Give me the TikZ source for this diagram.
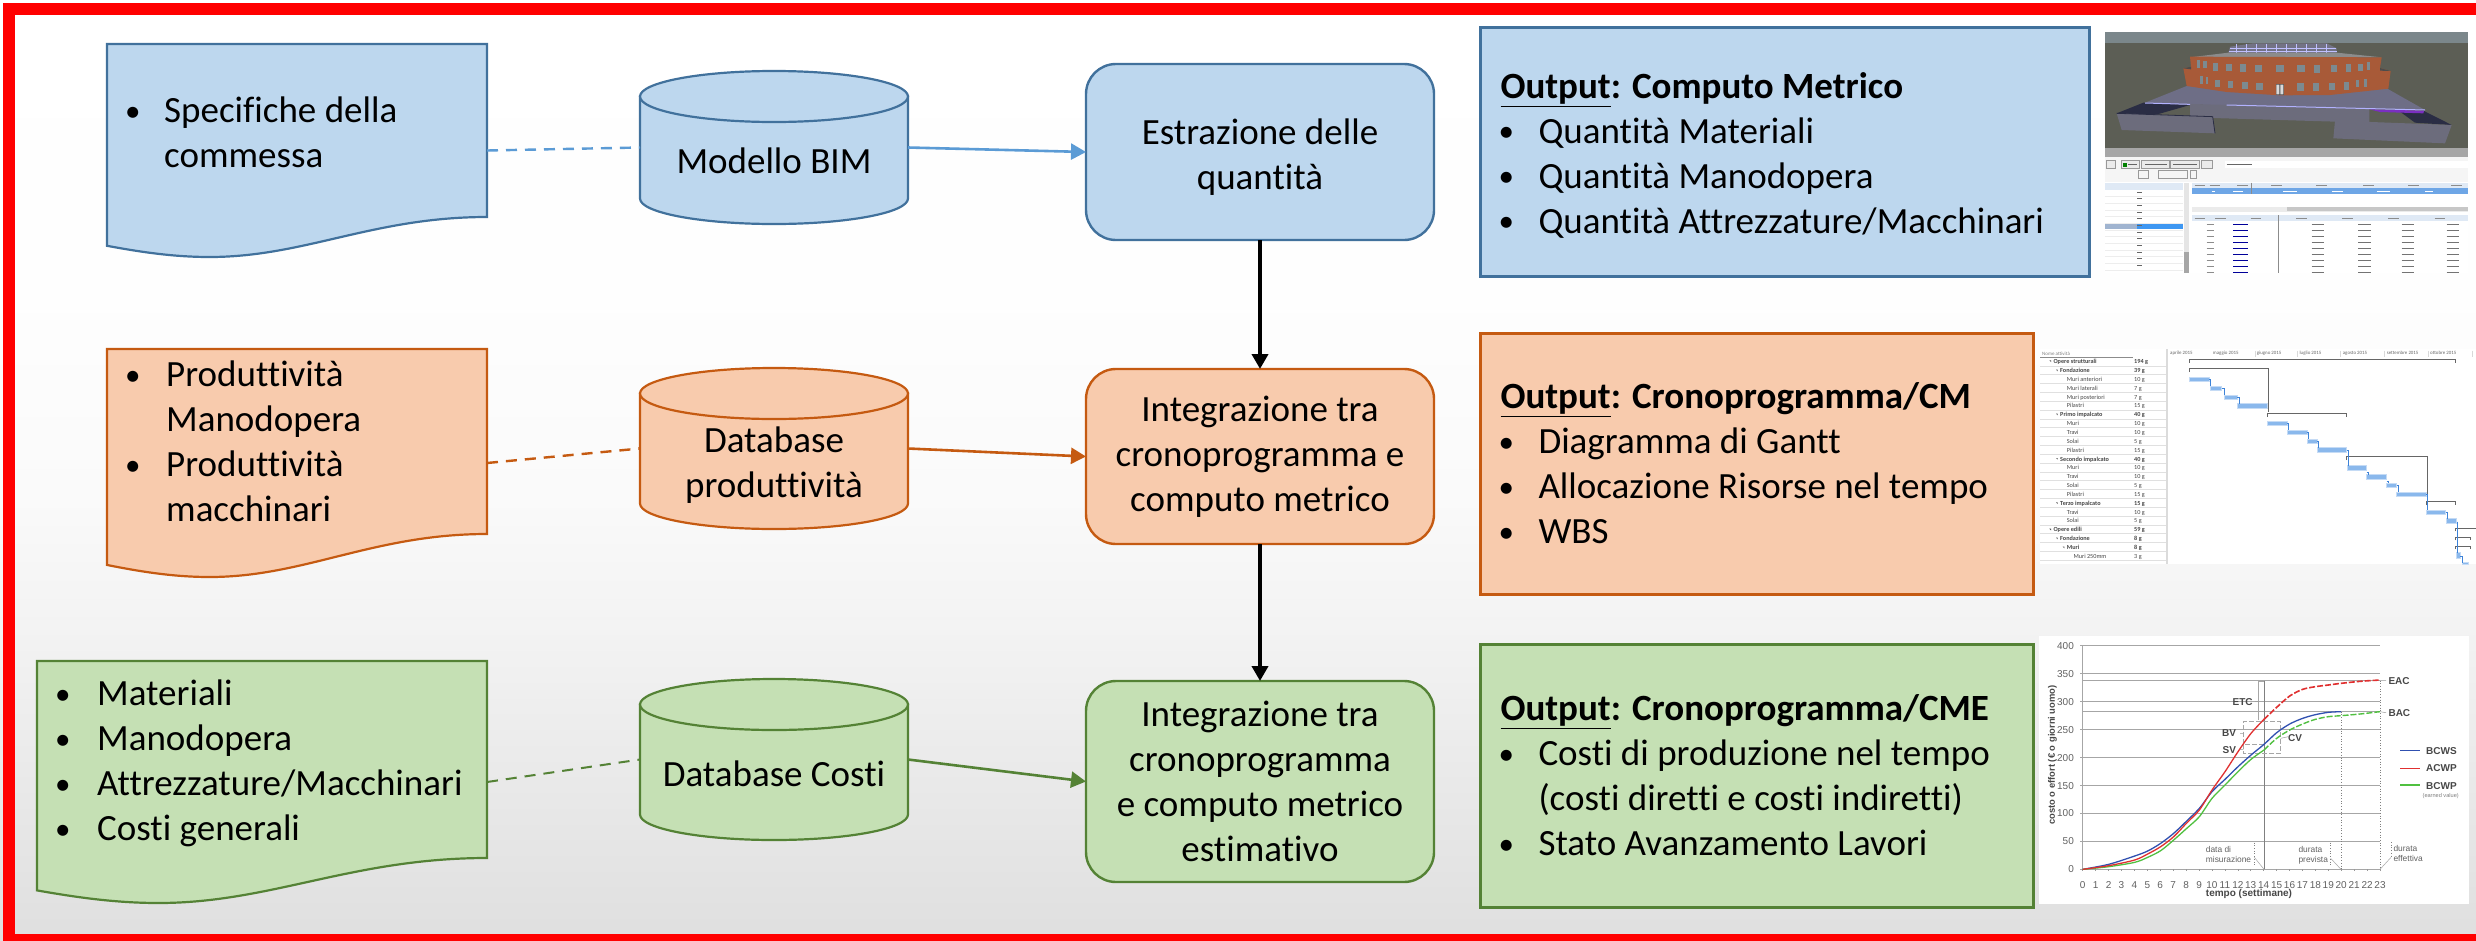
\documentclass[tikz,border=0pt]{standalone}
\usepackage{fontspec}
\setmainfont{Carlito}[Ligatures=NoCommon]
\newfontfamily\chartfont{Liberation Sans}
\usetikzlibrary{arrows.meta}
\definecolor{bfill}{HTML}{BDD7EE}\definecolor{bline}{HTML}{41719C}\definecolor{bconn}{HTML}{5B9BD5}
\definecolor{ofill}{HTML}{F8CBAD}\definecolor{oline}{HTML}{C55A11}
\definecolor{gfill}{HTML}{C5E0B4}\definecolor{gline}{HTML}{548235}
\definecolor{ganttblue}{HTML}{8AB8EC}\definecolor{ganttlink}{HTML}{3C82D8}
\definecolor{sky}{HTML}{7B878B}\definecolor{ground}{HTML}{5C5E55}\definecolor{brick}{HTML}{A85A38}
\definecolor{slab}{HTML}{6E6E86}\definecolor{wallc}{HTML}{6C6C7C}\definecolor{darkc}{HTML}{2A2D44}
\definecolor{purp}{HTML}{7A2FC0}\definecolor{wind}{HTML}{7C8A90}\definecolor{thead}{HTML}{DFE9F5}
\definecolor{selrow}{HTML}{6EA6E6}\definecolor{selcell}{HTML}{3E97F2}\definecolor{selgray}{HTML}{A0B4D0}
\definecolor{cblue}{HTML}{3050B0}\definecolor{cred}{HTML}{E03030}\definecolor{cgreen}{HTML}{50C040}
\pgfdeclareverticalshading{bgshade}{100bp}{rgb(0bp)=(0.875,0.875,0.875); rgb(25bp)=(0.875,0.875,0.875); rgb(41bp)=(0.95,0.95,0.95); rgb(48.4bp)=(0.98,0.98,0.98); rgb(59bp)=(0.995,0.995,0.995); rgb(75bp)=(1,1,1); rgb(100bp)=(1,1,1)}
\tikzset{
  shapeblue/.style={draw=bline,fill=bfill,line width=2.2pt},
  shapeorange/.style={draw=oline,fill=ofill,line width=2.2pt},
  shapegreen/.style={draw=gline,fill=gfill,line width=2.2pt},
  ghost/.style={inner sep=0pt,outer sep=0pt},
  bigtext/.style={font=\fontsize{37}{45}\selectfont,text=black},
  listtext/.style={bigtext,align=flush left,inner sep=0pt,anchor=north west},
  cyltext/.style={bigtext,align=flush center,inner sep=0pt,anchor=base},
  stepbox/.style={bigtext,align=flush center,rounded corners=30pt,line width=2.4pt,inner sep=0pt,outer sep=0pt,minimum width=348pt},
  outbox/.style={bigtext,align=flush left,line width=3pt,inner xsep=0pt,inner ysep=0pt,outer sep=0pt},
  solidconn/.style={line width=2.6pt,-{Triangle[length=15pt,width=16pt]}},
  dashconn/.style={line width=2.4pt,dash pattern=on 11pt off 8pt},
  flowarrow/.style={line width=4pt,black,-{Triangle[length=15pt,width=16pt]}},
  ganttlabel/.style={font=\fontsize{6.2}{7}\selectfont,text=black!72,inner sep=0pt,anchor=base west},
  gbar/.style={fill=ganttblue,draw=ganttblue!50,line width=.6pt},
  gsum/.style={draw=black!60,line width=.9pt},
  glink/.style={draw=ganttlink,line width=.7pt},
  ticklab/.style={font=\chartfont\fontsize{10}{11}\selectfont,text=black!62,inner sep=0pt},
  clabel/.style={font=\chartfont\bfseries\fontsize{10}{11}\selectfont,text=black!72,inner sep=0pt},
  smalllab/.style={font=\chartfont\fontsize{8.4}{10.2}\selectfont,text=black!62,inner sep=0pt,align=flush left,anchor=north west},
  gridline/.style={draw=black!35,line width=.8pt},
  dotline/.style={draw=black!50,line width=.7pt,dotted},
}
\newcommand{\bdot}{{\fontsize{31}{45}\selectfont\raisebox{1.8pt}{•}}}
\newcommand{\blt}{\makebox[38pt][l]{\hspace{-2pt}\bdot}}
\newcommand{\bli}[1]{\makebox[#1][l]{\hspace{-4pt}\bdot}}
\newcommand{\docshape}[7]{% name,x1,x2,top,yr,ytrough,style
  \pgfmathsetmacro\dw{#3-#2}
  \pgfmathsetmacro\dl{#6-0.28*(#6-#5)}
  \path[#7] (#2,#4) -- (#3,#4) -- (#3,#5)
    .. controls ({#3-0.30*\dw},#5) and ({#2+0.52*\dw},#6) .. ({#2+0.27*\dw},#6)
    .. controls ({#2+0.17*\dw},#6) and ({#2+0.08*\dw},{\dl+0.5*(#6-\dl)}) .. (#2,\dl) -- cycle;
  \pgfmathsetmacro\dcx{(#2+#3)/2}\pgfmathsetmacro\dcy{(#4+#6)/2}\pgfmathsetmacro\dh{#6-#4}
  \node[ghost,minimum width=\dw pt,minimum height=\dh pt] (#1) at (\dcx,\dcy) {};
}
\newcommand{\cylshape}[6]{% name,x1,x2,top,bottom,style
  \pgfmathsetmacro\ccx{(#2+#3)/2}\pgfmathsetmacro\crx{(#3-#2)/2}
  \pgfmathsetmacro\ccy{#4+25.5}\pgfmathsetmacro\cby{#5-25.5}
  \path[#6] (#2,\ccy) -- (#2,\cby) arc[start angle=180,end angle=360,x radius=\crx pt,y radius=25.5pt] -- (#3,\ccy) -- cycle;
  \path[#6] (\ccx,\ccy) ellipse[x radius=\crx pt,y radius=25.5pt];
  \pgfmathsetmacro\cmy{(#4+#5)/2}\pgfmathsetmacro\cw{#3-#2}\pgfmathsetmacro\ch{#5-#4}
  \node[ghost,minimum width=\cw pt,minimum height=\ch pt] (#1) at (\ccx,\cmy) {};
}
\begin{document}
\begin{tikzpicture}[x=1pt,y=-1pt]
\useasboundingbox (0,0) rectangle (2476,940);
\clip (0,0) rectangle (2476,940);
\fill[white] (0,0) rectangle (2476,940);
\shade[shading=bgshade] (0,0) rectangle (2476,940);
\draw[red,line width=12pt] (9,9) rectangle (2520,940);

% documents
\docshape{doc1}{107}{487}{44}{217}{257}{shapeblue}
\docshape{doc2}{107}{487}{349}{534}{577}{shapeorange}
\docshape{doc3}{37}{487}{661}{858}{903}{shapegreen}
\node[listtext] (tdoc1) at (129,97) {\bli{35pt}Specifiche della\\\hspace*{35pt}commessa};
\node[listtext] (tdoc2) at (129,361) {\bli{37pt}Produttività\\\hspace*{37pt}Manodopera\\\bli{37pt}Produttività\\\hspace*{37pt}macchinari};
\node[listtext] (tdoc3) at (59,680) {\bli{38pt}Materiali\\\bli{38pt}Manodopera\\\bli{38pt}Attrezzature/Macchinari\\\bli{38pt}Costi generali};

% cylinders
\cylshape{cyl1}{640}{908}{71}{224}{shapeblue}
\cylshape{cyl2}{640}{908}{368}{529}{shapeorange}
\cylshape{cyl3}{640}{908}{679}{840}{shapegreen}
\node[cyltext] (tcyl1) at (774,173) {Modello BIM};
\node[cyltext] (tcyl2a) at (774,452) {Database};
\node[cyltext] (tcyl2b) at (774,497) {produttività};
\node[cyltext] (tcyl3) at (774,786) {Database Costi};

% process boxes
\node[stepbox,draw=bline,fill=bfill,minimum height=176pt] (box1) at (1260,152) {\rule{0pt}{36pt}Estrazione delle\\quantità};
\node[stepbox,draw=oline,fill=ofill,minimum height=175pt] (box2) at (1260,456.5) {Integrazione tra\\cronoprogramma e\\computo metrico};
\node[stepbox,draw=gline,fill=gfill,minimum height=201pt] (box3) at (1260,781.5) {Integrazione tra\\cronoprogramma\\e computo metrico\\estimativo};

% output boxes
\node[outbox,draw=bline,fill=bfill,minimum width=609pt,minimum height=249pt,text width=569pt] (out1) at (1785,152) {\rule{0pt}{33pt}\textbf{\underline{Output}: Computo Metrico}\\\blt Quantità Materiali\\\blt Quantità Manodopera\\\blt Quantità Attrezzature/Macchinari};
\node[outbox,draw=oline,fill=ofill,minimum width=553pt,minimum height=261pt,text width=513pt] (out2) at (1757,463.5) {\textbf{\underline{Output}: Cronoprogramma/CM}\\\blt Diagramma di Gantt\\\blt Allocazione Risorse nel tempo\\\blt WBS};
\node[outbox,draw=gline,fill=gfill,minimum width=553pt,minimum height=263pt,text width=513pt] (out3) at (1757,775.5) {\textbf{\underline{Output}: Cronoprogramma/CME}\\\blt Costi di produzione nel tempo\\\hspace*{38pt}(costi diretti e costi indiretti)\\\blt Stato Avanzamento Lavori};

% connectors
\draw[dashconn,draw=bconn] (doc1.east) -- (cyl1.west);
\draw[dashconn,draw=oline] (doc2.east) -- (cyl2.west);
\draw[dashconn,draw=gline,line width=2pt] (doc3.east) -- (cyl3.west);
\draw[solidconn,draw=bconn,fill=bconn] (cyl1.east) -- (box1.west);
\draw[solidconn,draw=oline,fill=oline] (cyl2.east) -- (box2.west);
\draw[solidconn,draw=gline,fill=gline] (cyl3.east) -- (box3.west);
\draw[flowarrow] (box1.south) -- (box2.north);
\draw[flowarrow] (box2.south) -- (box3.north);

% ---------- BIM screenshot (coordinates of a 3x crop) ----------
\begin{scope}[shift={(2080,0)},x=0.33333pt,y=-0.33333pt]
\fill[white] (75,96) rectangle (1163,820);
\fill[sky] (75,96) rectangle (1163,130);
\fill[ground] (75,130) rectangle (1163,445);
\fill[black!35] (75,445) rectangle (1163,470);
% dome and roof
\fill[black!30!blue!10!gray] (445,160) -- (450,140) -- (520,130) -- (740,130) -- (770,145) -- (770,162) -- cycle;
\foreach \xd in {470,500,...,750} \draw[white!75!blue,line width=.4pt] (\xd,132) -- (\xd,160);
\draw[white!75!blue,line width=.5pt] (450,145) -- (768,145) (446,155) -- (770,155);
\fill[black!45] (330,172) -- (445,158) -- (770,158) -- (905,172) -- cycle;
% terrace, brick facade
\fill[slab] (320,258) -- (190,310) -- (1035,330) -- (920,265) -- cycle;
\fill[brick] (330,170) -- (905,172) -- (900,204) -- (932,213) -- (925,266) -- (750,285) -- (600,286) -- (440,276) -- (320,258) -- (310,205) -- (333,200) -- cycle;
\fill[black!70] (310,205) -- (333,200) -- (333,208) -- cycle (900,204) -- (932,213) -- (900,212) -- cycle;
\foreach \xw/\yw/\ww in {355/192/5,375/193/5,407/201/7,447/203/8,489/204/9,535/205/11,599/206/12,663/206/11,712/207/9,761/206/9,806/204/8,841/203/7,866/198/5,
  365/240/4,381/241/4,413/250/7,452/253/8,494/256/9,538/259/10,661/261/10,708/261/9,757/260/9,800/258/8,832/250/5,857/249/5}
  \fill[wind] (\xw-\ww,\yw-11) rectangle (\xw+\ww,\yw+11);
\fill[black!70] (587,252) rectangle (612,285);
\fill[black!15] (589,254) rectangle (598,283) (601,254) rectangle (610,283);
% base walls and wings
\fill[wallc] (330,312) -- (868,325) -- (868,368) -- (330,352) -- cycle;
\fill[darkc] (190,308) -- (110,340) -- (225,345) -- (330,315) -- cycle;
\fill[wallc] (110,340) -- (398,350) -- (405,400) -- (125,390) -- cycle;
\draw[darkc,line width=.8pt] (110,340) -- (398,350) -- (405,400);
\fill[darkc] (960,335) -- (1030,332) -- (1115,375) -- (1005,368) -- cycle;
\fill[wallc] (765,362) -- (1115,375) -- (1095,430) -- (760,415) -- cycle;
\fill[purp] (868,328) -- (1032,332) -- (1030,340) -- (900,336) -- cycle;
\draw[white!70!blue,line width=1pt] (195,309) -- (330,313) (440,315) -- (1035,330);
% table area
\fill[black!4] (75,470) rectangle (1163,545);
\fill[white] (435,484) rectangle (1163,504);
\draw[black!40,line width=.4pt,fill=black!8] (80,482) rectangle (105,505) (124,482) rectangle (178,505) (184,482) rectangle (268,505) (272,482) rectangle (358,505) (364,482) rectangle (396,505);
\draw[black!40,line width=.4pt] (236,512) rectangle (322,535) (330,512) rectangle (350,535) (176,512) rectangle (205,535);
\fill[thead] (75,548) rectangle (310,570);
\fill[thead] (336,548) rectangle (1163,565);
\fill[selrow] (336,565) rectangle (1163,583);
\fill[black!8] (336,620) rectangle (1163,636);
\fill[black!22] (620,622) rectangle (1163,634);
\fill[thead] (336,645) rectangle (1163,662);
\fill[selgray] (75,669) rectangle (170,688);
\fill[selcell] (170,669) rectangle (309,688);
\fill[black!10] (312,548) rectangle (326,820);
\fill[black!35] (312,755) rectangle (326,820);
\foreach \yr in {590,610,630,650,670,690,710,730,750,770,790,810} {
  \draw[black!7,line width=.3pt] (75,\yr-1) -- (309,\yr-1);
  \draw[black!60,line width=1pt] (172,\yr-14) -- (186,\yr-14);
}
\foreach \xh in {360,405,488,590,725,865,1000,1130} \draw[black!45,line width=1pt] (\xh-16,557) -- (\xh+16,557);
\foreach \xh in {360,422,528,665,802,940,1080} \draw[black!45,line width=1pt] (\xh-16,654) -- (\xh+16,654);
\draw[black!45,line width=.6pt] (515,548) -- (515,582) (596,645) -- (596,820);
\foreach \yr in {672,690,709,727,745,763,781,800,817} {
  \draw[black!45,line width=1pt] (380,\yr) -- (402,\yr);
  \draw[blue!60!black,line width=1pt] (459,\yr) -- (503,\yr);
  \foreach \xr in {720,860,990,1125} \draw[black!55,line width=1pt] (\xr-25,\yr) -- (\xr+12,\yr);
}
\draw[white,line width=1pt] (395,574) -- (405,574) (460,574) -- (490,574) (610,574) -- (650,574) (755,574) -- (790,574) (890,574) -- (930,574) (1035,574) -- (1060,574);
\draw[black!60,line width=1pt] (145,494) -- (172,494) (195,494) -- (262,494) (280,494) -- (352,494) (440,492) -- (515,492);
\fill[green!50!black] (130,488) rectangle (142,500);
\end{scope}

% ---------- Gantt screenshot (coordinates of a 3x crop) ----------
\begin{scope}[shift={(2020,320)},x=0.33333pt,y=-0.33333pt]
\fill[white] (60,87) rectangle (1368,732);
\fill[black!14] (438,87) rectangle (445,732);
\draw[black!45,line width=.5pt] (60,112) -- (340,112);
\node[ganttlabel,text=black!50,font=\fontsize{5}{6}\selectfont] (ghead) at (66,107) {Nome attività};
\foreach \mm/\xm in {aprile 2015/450,maggio 2015/578,giugno 2015/710,luglio 2015/838,agosto 2015/968,settembre 2015/1100,ottobre 2015/1230}
  \node[ganttlabel,text=black!60,font=\fontsize{4.9}{6}\selectfont] at (\xm,104) {\mm};
\foreach \xm in {705,833,962,1094,1224,1356} \draw[black!15,line width=.4pt] (\xm,92) -- (\xm,110);
\foreach \i in {0,...,22} \draw[black!12,line width=.6pt] (60,{137.5+26.5*\i}) -- (438,{137.5+26.5*\i});
\foreach \xx/\lab/\dd [count=\i from 0] in {
  100/\textbf{Opere strutturali}/\textbf{194 g},
  120/\textbf{Fondazione}/\textbf{39 g},
  140/Muri anteriori/10 g,
  140/Muri laterali/7 g,
  140/Muri posteriori/7 g,
  140/Pilastri/15 g,
  120/\textbf{Primo impalcato}/\textbf{40 g},
  140/Muri/10 g,
  140/Travi/10 g,
  140/Solai/5 g,
  140/Pilastri/15 g,
  120/\textbf{Secondo impalcato}/\textbf{40 g},
  140/Muri/10 g,
  140/Travi/10 g,
  140/Solai/5 g,
  140/Pilastri/15 g,
  120/\textbf{Terzo impalcato}/\textbf{15 g},
  140/Travi/10 g,
  140/Solai/5 g,
  100/\textbf{Opere edili}/\textbf{59 g},
  120/\textbf{Fondazione}/\textbf{8 g},
  140/\textbf{Muri}/\textbf{8 g},
  160/Muri 250mm/3 g}{
  \node[ganttlabel] at (\xx,{131+26.55*\i}) {\lab};
  \node[ganttlabel] at (342,{131+26.55*\i}) {\dd};
}
\foreach \xx/\yy in {88/124,108/152,108/284,108/417,108/550,88/629,108/656,128/683}
  \fill[black!70] (\xx,\yy-3) -- (\xx+5,\yy-3) -- (\xx+5,\yy+2) -- cycle;
\foreach \xa/\ya/\xb/\yb in {508/172/568/184,570/198/605/210,613/225/652/237,653/251/741/264,742/304/802/317,802/331/862/343,862/357/891/369,892/383/980/397,982/437/1040/450,1040/464/1100/477,1100/490/1130/503,1130/516/1219/529,1220/570/1277/582,1278/596/1308/609,1308/698/1320/716,1328/726/1345/732}
  \path[gbar] (\xa,\ya) rectangle (\xb,\yb);
\foreach \xa/\xb/\yy in {508/1307/118,508/745/146,742/980/280,980/1222/410,1220/1307/545,1307/1368/624,1307/1350/651,1307/1350/678}{
  \draw[gsum] (\xa,\yy+10) -- (\xa,\yy) -- (\xb,\yy) -- (\xb,\yy+10);
}
\draw[gsum] (745,146) -- (745,275);
\draw[gsum] (1222,410) -- (1222,540);
\draw[glink] (568,178) -| (572,198) (605,204) -| (613,225) (652,231) -| (657,251) (802,311) -| (806,331) (862,337) -| (866,357) (891,363) -| (895,383) (980,390) -| (985,437) (1040,457) -| (1044,464) (1100,484) -| (1104,490) (1130,497) -| (1134,516) (1219,523) -| (1222,570) (1277,576) -| (1282,596) (1312,605) -- (1312,698) (1320,710) -| (1328,730);
\end{scope}

% ---------- S-curve chart (coordinates of a 3x crop) ----------
\begin{scope}[shift={(2020,620)},x=0.33333pt,y=-0.33333pt]
\fill[white] (57,48) rectangle (1347,852);
\foreach \yy/\lab in {748/0,664/50,580/100,497/150,413/200,329/250,245/300,161/350,77/400}{
  \draw[gridline] (180,\yy) -- (1080,\yy);
  \node[ticklab,anchor=east] at (162,\yy) {\lab};
}
\draw[gridline] (188,182) -- (1080,182) (188,275) -- (1080,275) (188,77) -- (188,748);
\foreach \i in {0,...,23}{
  \draw[black!40,line width=.6pt] ({188+38.78*\i},748) -- ({188+38.78*\i},754);
  \node[ticklab] at ({188+38.78*\i},796) {\i};
}
\draw[black!50,line width=.8pt] (732,182) -- (732,748);
\draw[dotline] (963,275) -- (963,748) (1080,182) -- (1080,748);
\draw[black!35,line width=.7pt] (716,300) -- (716,184) -- (732,184);
\draw[black!35,line width=.6pt,dash pattern=on 5pt off 2pt] (670,372) -- (670,305) -- (782,305) -- (782,400) -- (670,400) -- (670,372) -- (732,372);
\draw[cblue,line width=1.3pt] plot[smooth] coordinates {(188,748) (266,733) (344,708) (383,693) (422,670) (461,640) (499,604) (538,565) (576,515) (615,478) (654,440) (693,405) (732,373) (770,338) (809,312) (848,295) (886,284) (925,277) (963,275)};
\draw[cgreen,line width=1.3pt] plot[smooth] coordinates {(188,748) (266,740) (344,727) (383,712) (422,692) (461,660) (499,626) (538,590) (576,535) (615,495) (654,455) (693,418) (732,390)};
\draw[cgreen,line width=1.4pt,dash pattern=on 6pt off 2pt] plot[smooth] coordinates {(732,390) (770,355) (809,330) (848,312) (886,298) (925,290) (963,287) (1020,282) (1080,275)};
\draw[cred,line width=1.3pt] plot[smooth] coordinates {(188,748) (266,737) (344,720) (383,702) (422,680) (461,650) (499,610) (538,570) (576,510) (615,455) (654,395) (693,340) (732,298)};
\draw[cred,line width=1.6pt,dash pattern=on 6pt off 2pt] plot[smooth] coordinates {(732,298) (770,262) (809,228) (848,208) (886,200) (925,195) (963,190) (1020,184) (1080,180)};
\node[clabel,anchor=west] at (1105,182) {EAC};
\node[clabel,anchor=west] at (1105,278) {BAC};
\node[clabel] at (668,245) {ETC};
\node[clabel] at (627,340) {BV};
\node[clabel] at (628,389) {SV};
\node[clabel] at (825,355) {CV};
\draw[black!40,line width=.5pt] (705,245) -- (716,245) (660,340) -- (670,340) (660,389) -- (670,389) (782,355) -- (805,350);
\draw[black!40,line width=.5pt] (1080,182) -- (1098,182) (1080,275) -- (1098,278);
\draw[cblue,line width=1.1pt] (1140,392) -- (1200,392);
\draw[cred,line width=1.1pt] (1140,445) -- (1200,445);
\draw[cgreen,line width=1.1pt] (1140,495) -- (1200,495);
\node[clabel,anchor=west] at (1218,392) {BCWS};
\node[clabel,anchor=west] at (1218,445) {ACWP};
\node[clabel,anchor=west] at (1218,497) {BCWP};
\node[font=\chartfont\fontsize{5.6}{6}\selectfont,text=black!50,inner sep=0pt] at (1262,527) {(earned value)};
\node[clabel] at (687,823) {tempo (settimane)};
\node[clabel,rotate=90,font=\chartfont\bfseries\fontsize{9.4}{11}\selectfont] at (97,405) {costo o effort (€ o giorni uomo)};
\node[smalllab] at (557,678) {data di\\misurazione};
\node[smalllab] at (835,678) {durata\\prevista};
\node[smalllab] at (1120,675) {durata\\effettiva};
\draw[dotline] (703,668) -- (703,740) (932,668) -- (932,740) (1113,666) -- (1113,712);
\draw[black!35,line width=.5pt] (703,712) -- (732,748) (932,715) -- (963,748) (1113,712) -- (1080,748);
\end{scope}
\end{tikzpicture}
\end{document}
